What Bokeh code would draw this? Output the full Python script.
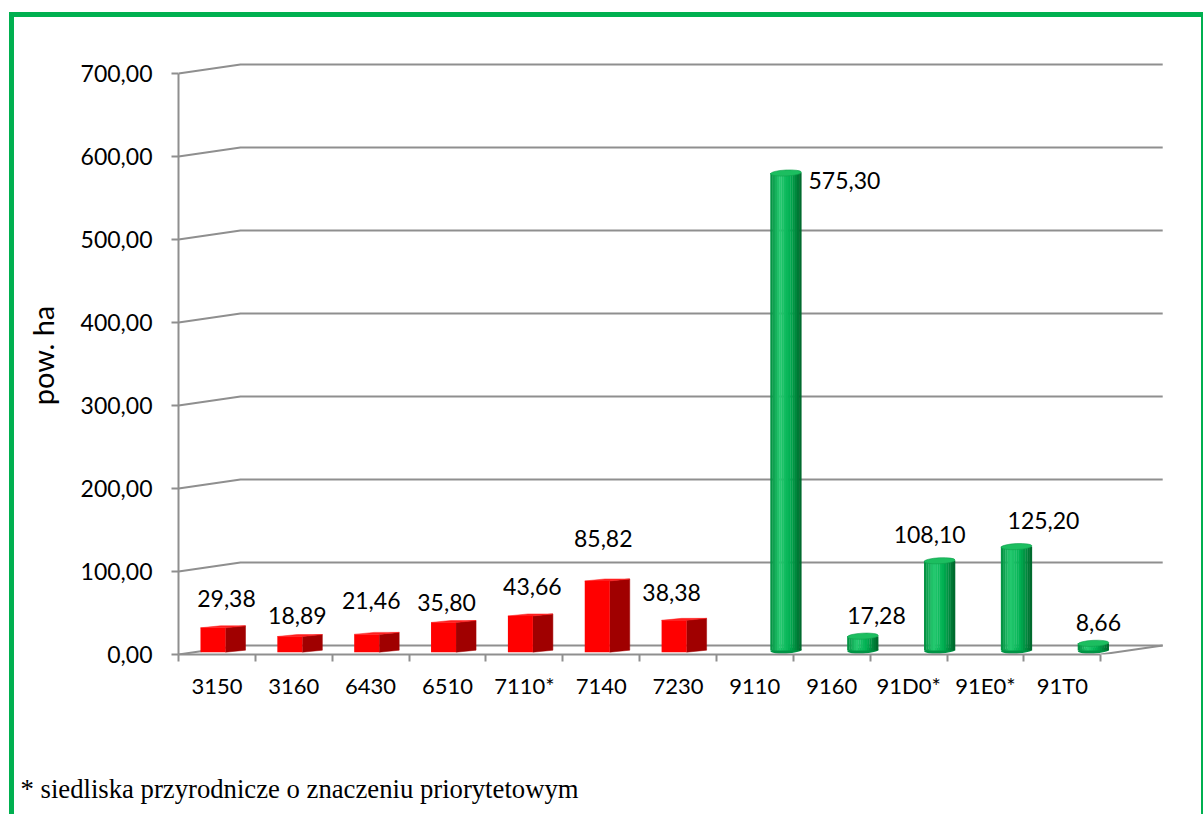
import numpy as np
from bokeh.plotting import figure
from bokeh.layouts import column
from bokeh.models import ColumnDataSource, FixedTicker, Range1d, Title
from bokeh.core.properties import value
from bokeh.embed import file_html
from bokeh.resources import INLINE

# ---------------- data ----------------
categories = ["3150", "3160", "6430", "6510", "7110*", "7140", "7230",
              "9110", "9160", "91D0*", "91E0*", "91T0"]
red_categories = ["3150", "3160", "6430", "6510", "7110*", "7140", "7230"]
red_values = [29.38, 18.89, 21.46, 35.80, 43.66, 85.82, 38.38]
green_categories = ["9110", "9160", "91D0*", "91E0*", "91T0"]
green_values = [575.30, 17.28, 108.10, 125.20, 8.66]
y_ticks = [0, 100, 200, 300, 400, 500, 600, 700]
y_tick_labels = ["0,00", "100,00", "200,00", "300,00", "400,00", "500,00", "600,00", "700,00"]
y_axis_title = "pow. ha"
footnote = "* siedliska przyrodnicze o znaczeniu priorytetowym"

# label nudges in screen pixels (Excel's label placement)
red_label_dx = [3.5, -2.5, -5.5, -7, 2, -4, -12.5]
red_label_rise = [29, 21, 34, 20, 29, 42, 28]
green_label_dx = [58.5, 13.7, -10, 27, 5]
green_label_rise = [-7.5, 20.7, 26.6, 26, 21]

# ---------------- geometry / style ----------------
SLOT_PX = 76.85
UNIT_PX = 0.83
FRAME_W = 999
FRAME_H = 598
X_END = FRAME_W / SLOT_PX
Y_END = FRAME_H / UNIT_PX
DEPTH_DX = 62 / SLOT_PX
DEPTH_DY = 9 / UNIT_PX
N = len(categories)
idx = {c: i for i, c in enumerate(categories)}

RED_BASE = 2.3 / UNIT_PX
RED_LEFT = 22 / SLOT_PX
RED_W = 25 / SLOT_PX
RED_SIDE_DX = 20 / SLOT_PX
RED_SIDE_DY = 2 / UNIT_PX

GREEN_BASE = 4 / UNIT_PX
GREEN_LEFT = 54 / SLOT_PX
GREEN_W = 31 / SLOT_PX
N_STRIPS = 14

GRID = "#8F8F8F"
BORDER = "#00B050"


def fmt(v):
    return f"{v:.2f}".replace(".", ",")


def cyl_color(t):
    stops = [(0.0, (0, 140, 62)), (0.3, (38, 202, 112)), (0.62, (0, 176, 82)), (1.0, (0, 100, 42))]
    for (t0, c0), (t1, c1) in zip(stops[:-1], stops[1:]):
        if t <= t1:
            f = (t - t0) / (t1 - t0)
            c = [int(round(a + (b - a) * f)) for a, b in zip(c0, c1)]
            return "#%02x%02x%02x" % tuple(c)
    return "#%02x%02x%02x" % stops[-1][1]


p = figure(frame_width=FRAME_W, frame_height=FRAME_H,
           x_range=Range1d(0, X_END), y_range=Range1d(0, Y_END),
           min_border_left=164, min_border_right=24, min_border_top=39, min_border_bottom=160,
           output_backend="svg", toolbar_location=None,
           background_fill_color="white", border_fill_color="white",
           outline_line_color=None)
p.xgrid.visible = False
p.ygrid.visible = False

# ---- 3D wall / floor gridlines ----
gxs, gys = [], []
for t in y_ticks:
    gxs.append([0, DEPTH_DX, N + DEPTH_DX])
    gys.append([t, t + DEPTH_DY, t + DEPTH_DY])
gxs.append([N, N + DEPTH_DX])
gys.append([0, DEPTH_DY])
p.multi_line(gxs, gys, line_color=GRID, line_width=2)

# ---- red boxes ----
rx = [idx[c] + RED_LEFT + RED_W / 2 for c in red_categories]
rtop = [RED_BASE + v for v in red_values]
side_xs, side_ys, top_xs, top_ys = [], [], [], []
for x, t in zip(rx, rtop):
    xr = x + RED_W / 2
    xl = x - RED_W / 2
    side_xs.append([xr, xr + RED_SIDE_DX, xr + RED_SIDE_DX, xr])
    side_ys.append([RED_BASE, RED_BASE + RED_SIDE_DY, t + RED_SIDE_DY, t])
    top_xs.append([xl, xr, xr + RED_SIDE_DX, xl + RED_SIDE_DX])
    top_ys.append([t, t, t + RED_SIDE_DY, t + RED_SIDE_DY])
p.patches(side_xs, side_ys, fill_color="#A00000", line_color="#A00000", line_width=0.5)
p.patches(top_xs, top_ys, fill_color="#FF1E1E", line_color="#FF1E1E", line_width=0.5)
p.vbar(x=rx, width=RED_W, bottom=RED_BASE, top=rtop, fill_color="#FF0000", line_color=None)

# ---- green cylinders ----
gcx = [idx[c] + GREEN_LEFT + GREEN_W / 2 for c in green_categories]
gtop = [GREEN_BASE + v for v in green_values]
p.ellipse(x=gcx, y=[GREEN_BASE] * len(gcx), width=31, height=6, width_units="screen",
          height_units="screen", angle=0.05, fill_color="#009445", line_color=None)
sx, stop, scol = [], [], []
for x, t in zip(gcx, gtop):
    left = x - GREEN_W / 2
    for j in range(N_STRIPS):
        sx.append(left + (j + 0.5) * GREEN_W / N_STRIPS)
        stop.append(t)
        scol.append(cyl_color((j + 0.5) / N_STRIPS))
p.vbar(x=sx, width=GREEN_W / N_STRIPS * 1.12, bottom=GREEN_BASE, top=stop,
       fill_color=scol, line_color=None)
p.ellipse(x=gcx, y=gtop, width=31, height=6, width_units="screen", height_units="screen",
          angle=0.05, fill_color="#1CBE60", line_color="#0FA04C", line_width=0.6)

# ---- data labels ----
lab = ColumnDataSource(dict(
    x=[idx[c] + RED_LEFT + (RED_W + RED_SIDE_DX) / 2 for c in red_categories] + gcx,
    y=rtop + gtop,
    text=[fmt(v) for v in red_values + green_values],
    dx=red_label_dx + green_label_dx,
    dy=[-r for r in red_label_rise + green_label_rise],
))
p.text(x="x", y="y", text="text", x_offset="dx", y_offset="dy", source=lab,
       text_align="center", text_baseline="alphabetic", text_color="black",
       text_font=value("Lato"), text_font_size="23px")

# ---- axes ----
xa = p.xaxis[0]
xa.ticker = FixedTicker(ticks=[i + 0.5 for i in range(N)], minor_ticks=list(range(N + 1)))
xa.major_label_overrides = {i + 0.5: c for i, c in enumerate(categories)}
xa.bounds = (0, N)
xa.axis_line_color = GRID
xa.axis_line_width = 2
xa.major_tick_out = 0
xa.major_tick_in = 0
xa.minor_tick_out = 7
xa.minor_tick_in = 0
xa.minor_tick_line_color = GRID
xa.minor_tick_line_width = 2
xa.major_label_standoff = 10
xa.major_label_text_font = "Lato"
xa.major_label_text_font_size = "22px"
xa.major_label_text_color = "black"
# blank axis label used only as vertical spacing above the footnote
xa.axis_label = " "
xa.axis_label_text_font_size = "10px"
xa.axis_label_standoff = 54

ya = p.yaxis[0]
ya.ticker = FixedTicker(ticks=y_ticks, minor_ticks=[])
ya.major_label_overrides = {t: l for t, l in zip(y_ticks, y_tick_labels)}
ya.bounds = (0, 700)
ya.axis_line_color = GRID
ya.axis_line_width = 2
ya.major_tick_out = 7
ya.major_tick_in = 0
ya.major_tick_line_color = GRID
ya.major_tick_line_width = 2
ya.minor_tick_out = 0
ya.minor_tick_in = 0
ya.major_label_standoff = 19
ya.major_label_text_font = "Lato"
ya.major_label_text_font_size = "23px"
ya.major_label_text_color = "black"
ya.axis_label = y_axis_title
ya.axis_label_text_font = "Lato"
ya.axis_label_text_font_size = "29px"
ya.axis_label_text_font_style = "normal"
ya.axis_label_text_color = "black"
ya.axis_label_standoff = 18

# ---- footnote ----
p.add_layout(Title(text=footnote, align="left", offset=-158, standoff=4,
                   text_font="Liberation Serif", text_font_size="26.7px",
                   text_font_style="normal", text_color="black"), "below")

layout = column(p, styles={
    "margin-top": "12px", "margin-left": "9px",
    "border-top": f"5px solid {BORDER}",
    "border-left": f"5px solid {BORDER}",
    "border-right": f"2px solid {BORDER}",
})

open("out.html", "w").write(file_html(layout, INLINE))
